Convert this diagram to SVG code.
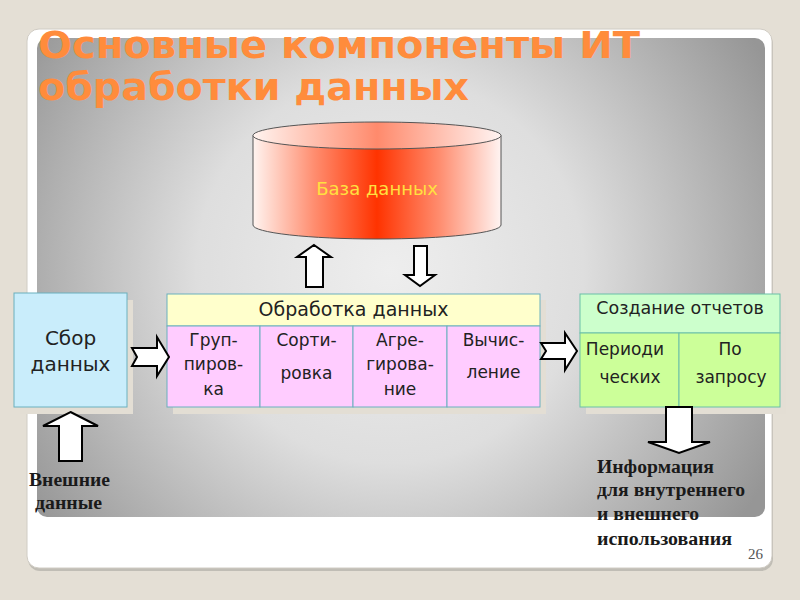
<svg xmlns="http://www.w3.org/2000/svg" width="800" height="600" viewBox="0 0 800 600">
<defs>
<radialGradient id="panelG" gradientUnits="userSpaceOnUse" cx="390" cy="270" r="430">
<stop offset="0" stop-color="#EEEEEE"/>
<stop offset="0.45" stop-color="#DEDEDE"/>
<stop offset="1" stop-color="#969696"/>
</radialGradient>
<linearGradient id="bodyG" x1="0" y1="0" x2="1" y2="0">
<stop offset="0" stop-color="#FFF4F0"/>
<stop offset="0.25" stop-color="#FF8C6E"/>
<stop offset="0.5" stop-color="#FF3300"/>
<stop offset="0.75" stop-color="#FF8C6E"/>
<stop offset="1" stop-color="#FFF4F2"/>
</linearGradient>
<linearGradient id="topG" x1="0" y1="0" x2="1" y2="0">
<stop offset="0" stop-color="#FFF4F0"/>
<stop offset="0.5" stop-color="#FF8A6C"/>
<stop offset="1" stop-color="#FFF4F2"/>
</linearGradient>
<style>
.shadow{fill:#E3DED4;}
.cell{stroke:#6AB0BE;stroke-width:1;}
.lbl{font-family:"DejaVu Sans","Noto Sans",sans-serif;fill:#222;text-anchor:middle;}
.big{font-size:20px;}
.hdr{font-size:19px;}
.sm{font-size:17px;}
.note{font-family:"Liberation Serif","Times New Roman",serif;font-weight:bold;font-size:18px;fill:#1A1A1A;}
.arr{fill:#FFFFFF;stroke:#000000;stroke-width:2;stroke-linejoin:miter;}
</style>
</defs>
<rect x="0" y="0" width="800" height="600" fill="#E4DFD5"/>
<g id="slide">
<rect x="28" y="32" width="745" height="539" rx="12" fill="#A8A6A0" opacity="0.6"/>
<rect x="27" y="29" width="745" height="539" rx="12" fill="#FFFFFF" stroke="#D0CCC4" stroke-width="1"/>
<rect x="37" y="38" width="728" height="479" rx="10" fill="url(#panelG)"/>
</g>
<g id="title" font-family="'DejaVu Sans','Noto Sans',sans-serif" font-weight="bold" font-size="38" fill="#FF8C3C">
<text x="38" y="58" textLength="602" lengthAdjust="spacingAndGlyphs">Основные компоненты ИТ</text>
<text x="38" y="100" textLength="431" lengthAdjust="spacingAndGlyphs">обработки данных</text>
</g>
<g id="database">
<path d="M253,135.5 V225 A124,14 0 0 0 501,225 V135.5 Z" fill="url(#bodyG)" stroke="#555" stroke-width="1"/>
<ellipse cx="377" cy="135.5" rx="124" ry="13.5" fill="url(#topG)" stroke="#555" stroke-width="1"/>
<text x="377" y="195" font-family="'DejaVu Sans','Noto Sans',sans-serif" font-size="18" fill="#FFE040" text-anchor="middle">База данных</text>
</g>
<g id="collect">
<rect class="shadow" x="20" y="300" width="113" height="114"/>
<rect class="cell" x="14" y="293" width="113" height="114" fill="#C9EDFB"/>
<text class="lbl big" x="70.5" y="345">Сбор</text>
<text class="lbl big" x="70.5" y="371">данных</text>
</g>
<g id="processing">
<rect class="shadow" x="173" y="300" width="373" height="114"/>
<rect class="cell" x="167" y="294" width="373" height="32" fill="#FFFFCC"/>
<rect class="cell" x="167" y="326" width="93" height="81" fill="#FFCCFF"/>
<rect class="cell" x="260" y="326" width="93" height="81" fill="#FFCCFF"/>
<rect class="cell" x="353" y="326" width="94" height="81" fill="#FFCCFF"/>
<rect class="cell" x="447" y="326" width="93" height="81" fill="#FFCCFF"/>
<text class="lbl hdr" x="353.5" y="316">Обработка данных</text>
<text class="lbl sm" x="213.5" y="346">Груп-</text>
<text class="lbl sm" x="213.5" y="370">пиров-</text>
<text class="lbl sm" x="213.5" y="395">ка</text>
<text class="lbl sm" x="306.5" y="346">Сорти-</text>
<text class="lbl sm" x="306.5" y="379">ровка</text>
<text class="lbl sm" x="400" y="346">Агре-</text>
<text class="lbl sm" x="400" y="370">гирова-</text>
<text class="lbl sm" x="400" y="395">ние</text>
<text class="lbl sm" x="493.5" y="346">Вычис-</text>
<text class="lbl sm" x="493.5" y="378">ление</text>
</g>
<g id="reports">
<rect class="shadow" x="586" y="300" width="200" height="114"/>
<rect x="580" y="294" width="200" height="39" fill="#CCFFCC" stroke="#6ABFA8" stroke-width="1"/>
<rect x="580" y="333" width="99" height="74" fill="#CCFF99" stroke="#6ABFA8" stroke-width="1"/>
<rect x="679" y="333" width="101" height="74" fill="#CCFF99" stroke="#6ABFA8" stroke-width="1"/>
<text class="lbl" font-size="17.5" x="680" y="314">Создание отчетов</text>
<text class="lbl sm" x="625" y="355">Периоди</text>
<text class="lbl sm" x="630" y="383">ческих</text>
<text class="lbl sm" x="730" y="355">По</text>
<text class="lbl sm" x="731" y="383">запросу</text>
</g>
<g id="connectors">
<path class="arr" d="M314,245 L331,257 L323,257 L323,287 L306,287 L306,257 L297,257 Z"/>
<path class="arr" d="M414,246 L427,246 L427,275 L435,275 L420,286 L405,275 L414,275 Z"/>
<path class="arr" d="M132,348 L157,348 L157,337 L169,357 L157,376 L157,366 L132,366 L137,357 Z"/>
<path class="arr" d="M541,343 L565,343 L565,333 L577,351 L565,370 L565,359 L541,359 L546,351 Z"/>
<path class="arr" d="M70.5,412 L98,426 L82,426 L82,461 L59,461 L59,426 L43,426 Z"/>
<path class="arr" d="M666,407 L692,407 L692,442 L710,442 L679,453 L648,442 L666,442 Z"/>
</g>
<g id="notes">
<text class="note" x="29" y="486" textLength="81" lengthAdjust="spacingAndGlyphs">Внешние</text>
<text class="note" x="35" y="509" textLength="67" lengthAdjust="spacingAndGlyphs">данные</text>
<text class="note" x="597" y="473" textLength="117" lengthAdjust="spacingAndGlyphs">Информация</text>
<text class="note" x="597" y="496" textLength="148" lengthAdjust="spacingAndGlyphs">для внутреннего</text>
<text class="note" x="597" y="520" textLength="102" lengthAdjust="spacingAndGlyphs">и внешнего</text>
<text class="note" x="597" y="545" textLength="135" lengthAdjust="spacingAndGlyphs">использования</text>
<text x="763" y="559" font-family="'Liberation Serif','Times New Roman',serif" font-size="15" fill="#555" text-anchor="end">26</text>
</g>
</svg>
